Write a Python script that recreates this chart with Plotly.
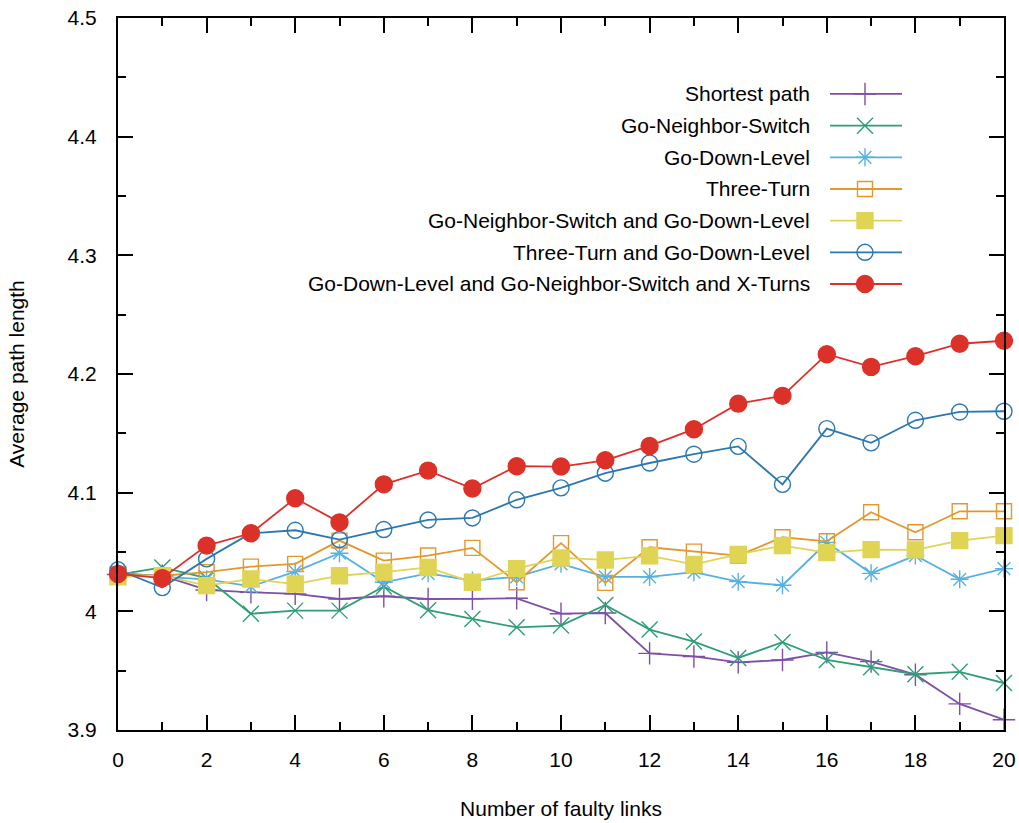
import plotly.graph_objects as go

faulty_links = list(range(0, 21))

series_names = [
    "Shortest path",
    "Go-Neighbor-Switch",
    "Go-Down-Level",
    "Three-Turn",
    "Go-Neighbor-Switch and Go-Down-Level",
    "Three-Turn and Go-Down-Level",
    "Go-Down-Level and Go-Neighbor-Switch and X-Turns",
]

shortest_path = [4.031, 4.030, 4.018, 4.016, 4.0147, 4.0104, 4.0127, 4.0104, 4.0105, 4.011,
                 3.998, 3.9986, 3.9646, 3.962, 3.957, 3.959, 3.9654, 3.9576, 3.9466, 3.922, 3.9087]
go_neighbor_switch = [4.031, 4.037, 4.028, 3.998, 4.0006, 4.0006, 4.021, 4.001, 3.9936, 3.9865,
                      3.988, 4.0054, 3.9846, 3.9745, 3.9607, 3.974, 3.959, 3.9528, 3.947, 3.949, 3.9396]
go_down_level = [4.033, 4.029, 4.027, 4.021, 4.0335, 4.049, 4.0245, 4.032, 4.026, 4.029,
                 4.040, 4.029, 4.029, 4.033, 4.025, 4.022, 4.058, 4.032, 4.047, 4.027, 4.036]
three_turn = [4.031, 4.030, 4.033, 4.0377, 4.040, 4.0596, 4.0427, 4.047, 4.0535, 4.0245,
              4.0575, 4.024, 4.054, 4.0503, 4.047, 4.0624, 4.059, 4.0835, 4.0666, 4.0843, 4.0843]
gns_and_gdl = [4.029, 4.030, 4.0217, 4.0273, 4.023, 4.030, 4.033, 4.037, 4.0245, 4.036,
               4.045, 4.0433, 4.0467, 4.0396, 4.048, 4.0554, 4.0495, 4.052, 4.0518, 4.0596, 4.0638]
tt_and_gdl = [4.035, 4.020, 4.0442, 4.0658, 4.0683, 4.0605, 4.0689, 4.077, 4.0787, 4.094,
              4.104, 4.1164, 4.125, 4.1324, 4.139, 4.107, 4.154, 4.142, 4.161, 4.168, 4.1686]
gdl_gns_xturns = [4.0315, 4.028, 4.0554, 4.0658, 4.0953, 4.075, 4.107, 4.1186, 4.1035, 4.1223,
                  4.122, 4.1273, 4.1394, 4.1535, 4.175, 4.1816, 4.2167, 4.206, 4.215, 4.2255, 4.228]

all_series = [shortest_path, go_neighbor_switch, go_down_level, three_turn,
              gns_and_gdl, tt_and_gdl, gdl_gns_xturns]

colors = ["#7f4fa8", "#2f9e77", "#56b1e3", "#e3982c", "#e0d455", "#2b78b0", "#dc3129"]
symbols = ["cross-thin", "x-thin", "asterisk", "square-open", "square", "circle-open", "circle"]
sizes = [16, 16, 15, 15, 16, 16, 17]

FONT = "Liberation Sans, Arial, Helvetica, sans-serif"
FS = 21
LW = 1.8

fig = go.Figure()

for name, ys, c, s, sz in zip(series_names, all_series, colors, symbols, sizes):
    fig.add_trace(go.Scatter(
        x=faulty_links, y=ys, name=name, mode="lines+markers",
        line=dict(color=c, width=LW),
        marker=dict(symbol=s, size=sz, color=c, line=dict(color=c, width=1.4)),
        cliponaxis=False, showlegend=False,
    ))

# Custom gnuplot-style key (text on the left, sample on the right)
row_top = 0.8933   # paper fraction of first key row
row_step = 0.04448
text_x = 0.7833
line_x0, line_x1, mark_x = 0.8036, 0.8849, 0.8431
for i, (name, c, s, sz) in enumerate(zip(series_names, colors, symbols, sizes)):
    yy = row_top - i * row_step
    fig.add_trace(go.Scatter(
        x=[line_x0, line_x1], y=[yy, yy], mode="lines", xaxis="x2", yaxis="y2",
        line=dict(color=c, width=LW), showlegend=False, hoverinfo="skip"))
    fig.add_trace(go.Scatter(
        x=[mark_x], y=[yy], mode="markers", xaxis="x2", yaxis="y2",
        marker=dict(symbol=s, size=sz, color=c, line=dict(color=c, width=1.4)),
        showlegend=False, hoverinfo="skip", cliponaxis=False))
    fig.add_annotation(xref="paper", yref="paper", x=text_x, y=yy, text=name,
                       showarrow=False, xanchor="right", yanchor="middle",
                       font=dict(family=FONT, size=FS, color="#000000"))

axis_common = dict(
    showline=True, linecolor="#000000", linewidth=2, mirror="allticks",
    ticks="inside", ticklen=15, tickwidth=1.6, tickcolor="#000000",
    showgrid=False, zeroline=False, automargin=False,
    tickfont=dict(family=FONT, size=FS, color="#000000"),
)

fig.update_layout(
    width=1019, height=823,
    paper_bgcolor="white", plot_bgcolor="white",
    margin=dict(l=118, r=15, t=18, b=93),
    font=dict(family=FONT, size=FS, color="#000000"),
    xaxis=dict(range=[0, 20], tick0=0, dtick=2,
               minor=dict(dtick=1, ticks="inside", ticklen=8, tickwidth=1.6, tickcolor="#000000"),
               title=dict(text="Number of faulty links", standoff=31,
                          font=dict(family=FONT, size=FS)),
               ticklabelstandoff=10,
               **axis_common),
    yaxis=dict(range=[3.9, 4.5], tick0=3.9, dtick=0.1,
               minor=dict(dtick=0.05, ticks="inside", ticklen=8, tickwidth=1.6, tickcolor="#000000"),
               title=dict(text="Average path length", standoff=37,
                          font=dict(family=FONT, size=FS)),
               ticklabelstandoff=15,
               **axis_common),
    xaxis2=dict(range=[0, 1], overlaying="x", visible=False, fixedrange=True),
    yaxis2=dict(range=[0, 1], overlaying="y", visible=False, fixedrange=True),
)

fig.write_html("out.html", config={"displayModeBar": False},
               post_script="document.body.style.margin='0px';")
